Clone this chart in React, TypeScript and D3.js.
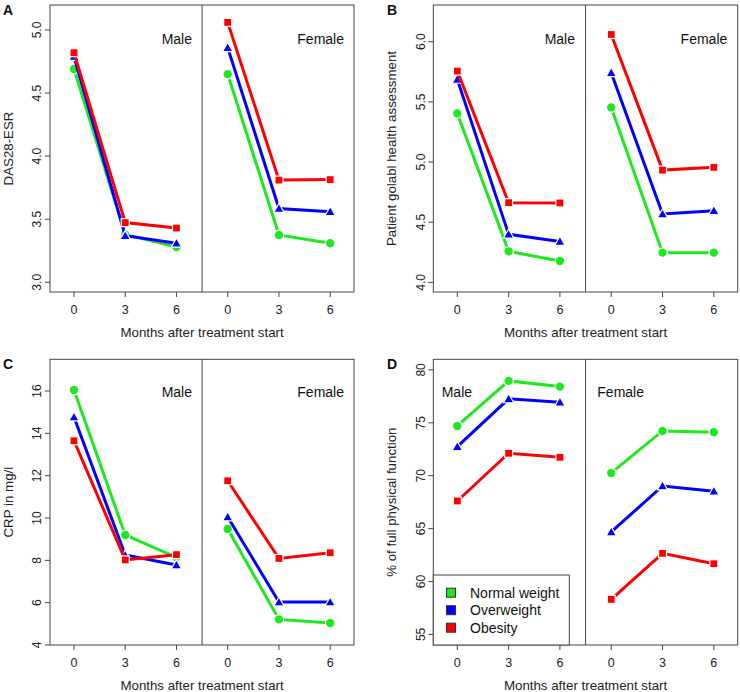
import React from "react";
import * as d3 from "d3";

// x positions: male 0,3,6 then female 0,3,6
const timeLabels = ["0", "3", "6", "0", "3", "6"];
const groupNames = ["Normal weight", "Overweight", "Obesity"];
const groupColors = ["#1ee81e", "#0000ff", "#ff0000"];
const sexLabels = ["Male", "Female"];

// Panel A: DAS28-ESR
const dasNormal = [4.69, 3.38, 3.28, 4.65, 3.375, 3.31];
const dasOver = [4.79, 3.37, 3.31, 4.86, 3.585, 3.56];
const dasObese = [4.82, 3.473, 3.43, 5.06, 3.81, 3.814];
const dasTicks = [3.0, 3.5, 4.0, 4.5, 5.0];

// Panel B: Patient global health assessment
const pgaNormal = [5.404, 4.258, 4.177, 5.454, 4.247, 4.247];
const pgaOver = [5.687, 4.4, 4.34, 5.742, 4.568, 4.596];
const pgaObese = [5.756, 4.662, 4.66, 6.06, 4.933, 4.956];
const pgaTicks = [4.0, 4.5, 5.0, 5.5, 6.0];

// Panel C: CRP
const crpNormal = [16.05, 9.2, 8.14, 9.48, 5.21, 5.04];
const crpOver = [14.77, 8.25, 7.78, 10.05, 6.03, 6.03];
const crpObese = [13.65, 8.02, 8.27, 11.76, 8.09, 8.36];
const crpTicks = [4, 6, 8, 10, 12, 14, 16];

// Panel D: % of full physical function
const pfNormal = [74.7, 78.96, 78.42, 70.26, 74.23, 74.1];
const pfOver = [72.75, 77.26, 76.94, 64.68, 69.03, 68.53];
const pfObese = [67.61, 72.12, 71.74, 58.31, 62.66, 61.68];
const pfTicks = [55, 60, 65, 70, 75, 80];

const FONT = "'Liberation Sans', Arial, Helvetica, sans-serif";
const AXIS = "#444";

type Panel = {
  letter: string;
  series: number[][];
  ticks: number[];
  fmt: (v: number) => string;
  domain: [number, number];
  ytitle: string;
  left: number;
  right: number;
  top: number;
  bottom: number;
  sexAnchor: "end" | "start";
  sexX: [number, number];
  sexY: number;
  legend?: boolean;
};

const panels: Panel[] = [
  {
    letter: "A",
    series: [dasNormal, dasOver, dasObese],
    ticks: dasTicks,
    fmt: d3.format(".1f"),
    domain: [2.923, 5.198],
    ytitle: "DAS28-ESR",
    left: 50, right: 354, top: 5, bottom: 292,
    sexAnchor: "end", sexX: [192, 344], sexY: 43.5,
  },
  {
    letter: "B",
    series: [pgaNormal, pgaOver, pgaObese],
    ticks: pgaTicks,
    fmt: d3.format(".1f"),
    domain: [3.92, 6.305],
    ytitle: "Patient golabl health assessment",
    left: 433.3, right: 737.7, top: 5, bottom: 292,
    sexAnchor: "end", sexX: [575, 727.3], sexY: 44.3,
  },
  {
    letter: "C",
    series: [crpNormal, crpOver, crpObese],
    ticks: crpTicks,
    fmt: d3.format("d"),
    domain: [4, 17.5],
    ytitle: "CRP in mg/l",
    left: 50, right: 354, top: 359.3, bottom: 645,
    sexAnchor: "end", sexX: [192, 344], sexY: 396.7,
  },
  {
    letter: "D",
    series: [pfNormal, pfOver, pfObese],
    ticks: pfTicks,
    fmt: d3.format("d"),
    domain: [54, 81],
    ytitle: "% of full physical function",
    left: 433.3, right: 737.7, top: 359.3, bottom: 645,
    sexAnchor: "start", sexX: [441.7, 597.3], sexY: 396.7,
    legend: true,
  },
];

function Marker({ kind, x, y, color }: { kind: number; x: number; y: number; color: string }) {
  if (kind === 0) return <circle cx={x} cy={y} r={4.8} fill={color} stroke="#fff" strokeWidth={1.2} />;
  if (kind === 1) {
    const s = 5.2;
    const pts = `${x},${y - s} ${x + s},${y + s * 0.75} ${x - s},${y + s * 0.75}`;
    return <polygon points={pts} fill={color} stroke="#fff" strokeWidth={1.2} />;
  }
  const h = 4;
  return <rect x={x - h} y={y - h} width={2 * h} height={2 * h} fill={color} stroke="#fff" strokeWidth={1.2} />;
}

function PanelView({ p }: { p: Panel }) {
  const x = d3.scaleLinear().domain([0.532, 6.465]).range([p.left, p.right]);
  const y = d3.scaleLinear().domain(p.domain).range([p.bottom, p.top]);
  const idx = d3.range(6);
  const line = d3
    .line<number>()
    .x((_, i) => x(i + 1))
    .y((d) => y(d));
  const midX = x(3.5);
  const midY = (p.top + p.bottom) / 2;
  const isRight = p.left > 300;
  const yTickLabelX = p.left - 13;
  const yTitleX = isRight ? 395.5 : 13.3;
  const letterX = isRight ? 387 : 3;
  const order = [0, 1, 2];
  return (
    <g>
      {/* box */}
      <rect x={p.left} y={p.top} width={p.right - p.left} height={p.bottom - p.top} fill="none" stroke={AXIS} strokeWidth={1} />
      <line x1={midX} x2={midX} y1={p.top} y2={p.bottom} stroke={AXIS} strokeWidth={1} />
      {/* y axis */}
      {p.ticks.map((t) => (
        <g key={"yt" + t}>
          <line x1={p.left - 5} x2={p.left} y1={y(t)} y2={y(t)} stroke={AXIS} />
          <text
            transform={`translate(${yTickLabelX + 4.3},${y(t)}) rotate(-90)`}
            textAnchor="middle"
            fontSize={12}
            fill="#222"
          >
            {p.fmt(t)}
          </text>
        </g>
      ))}
      <text transform={`translate(${yTitleX},${midY}) rotate(-90)`} textAnchor="middle" fontSize={13.3} fill="#222">
        {p.ytitle}
      </text>
      {/* x axis */}
      {idx.map((i) => (
        <g key={"xt" + i}>
          <line x1={x(i + 1)} x2={x(i + 1)} y1={p.bottom} y2={p.bottom + 5} stroke={AXIS} />
          <text x={x(i + 1)} y={p.bottom + 22} textAnchor="middle" fontSize={12.5} fill="#222">
            {timeLabels[i]}
          </text>
        </g>
      ))}
      <text x={midX} y={p.bottom + 45} textAnchor="middle" fontSize={13.3} fill="#222">
        Months after treatment start
      </text>
      {/* sex labels */}
      {sexLabels.map((s, i) => (
        <text key={s} x={p.sexX[i]} y={p.sexY} textAnchor={p.sexAnchor} fontSize={14} fill="#111">
          {s}
        </text>
      ))}
      {/* series */}
      {order.map((g) => {
        const vals = p.series[g];
        const male = vals.slice(0, 3);
        const female = vals.slice(3, 6);
        const lineF = d3
          .line<number>()
          .x((_, i) => x(i + 4))
          .y((d) => y(d));
        return (
          <g key={"s" + g}>
            <path d={line(male) || ""} fill="none" stroke={groupColors[g]} strokeWidth={3} />
            <path d={lineF(female) || ""} fill="none" stroke={groupColors[g]} strokeWidth={3} />
            {vals.map((v, i) => (
              <Marker key={i} kind={g} x={x(i + 1)} y={y(v)} color={groupColors[g]} />
            ))}
          </g>
        );
      })}
      {/* legend */}
      {p.legend && (
        <g>
          <rect x={p.left} y={575} width={136} height={p.bottom - 575} fill="#fff" stroke={AXIS} />
          {groupNames.map((n, i) => (
            <g key={n}>
              <rect x={446.5} y={588.2 + i * 17.5} width={9} height={9} fill={groupColors[i]} stroke="#333" strokeWidth={1} />
              <text x={470} y={597.7 + i * 17.5} fontSize={14} fill="#111">
                {n}
              </text>
            </g>
          ))}
        </g>
      )}
      <text x={letterX} y={p.top + 9.5} fontSize={14} fontWeight="bold" fill="#111">
        {p.letter}
      </text>
    </g>
  );
}

export default function App() {
  return (
    <svg width={740} height={692} style={{ display: "block", position: "absolute", left: 0, top: 0, background: "#fff" }} fontFamily={FONT}>
      <rect width={740} height={692} fill="#fff" />
      {panels.map((p) => (
        <PanelView key={p.letter} p={p} />
      ))}
    </svg>
  );
}
